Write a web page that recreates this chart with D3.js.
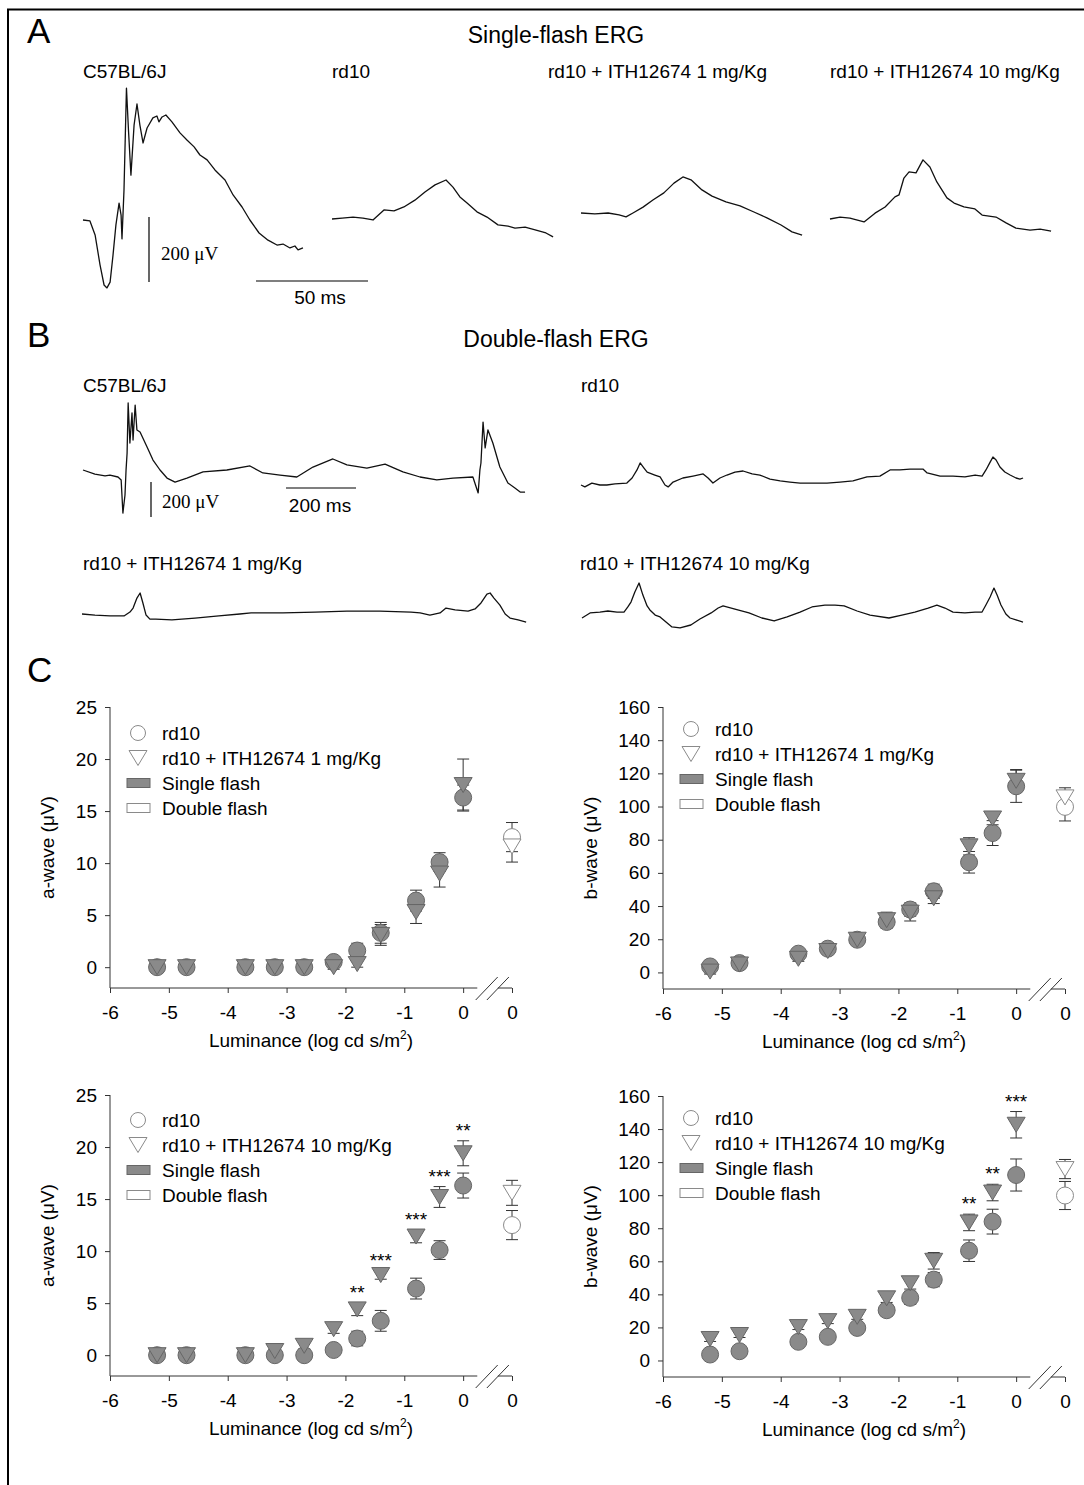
<!DOCTYPE html>
<html>
<head>
<meta charset="utf-8">
<script src="https://cdn.jsdelivr.net/npm/d3@7"></script>
<style>
  body { margin: 0; background: #fff; }
  svg  { display: block; font-family: "Liberation Sans", Arial, sans-serif; }
</style>
</head>
<body>
<div id="chart"></div>
<script>
// ---------------------------------------------------------------------------
// Data
// ---------------------------------------------------------------------------

// ERG traces, [time (ms), amplitude (µV)] from flash onset
const singleC57 = [[0,0],[3.1,-3],[5.4,-46],[7.6,-138],[9.4,-200],[10.7,-209],[12.1,-191],[13.4,-108],
  [14.7,-15],[16.1,52],[17,15],[17.4,-58],[18.3,92],[19.4,406],[20.3,277],[21.4,138],[22.8,292],
  [24.1,357],[25.4,292],[26.8,237],[28.6,283],[31.2,314],[33,320],[33.9,302],[35.3,317],[37,323],
  [39.7,302],[43.3,268],[46.4,246],[49.6,225],[52.2,200],[55.4,185],[58.9,154],[63.4,123],[67,77],
  [71,40],[74.5,0],[78.6,-40],[82.6,-62],[86.6,-77],[89.3,-74],[92.4,-86],[94.6,-80],[96,-92],[98.2,-86]];
const singleRd10 = [[0,0],[4.5,3],[9.4,6],[13.8,3],[18.3,-3],[23.2,28],[27.7,25],[32.1,37],[37,58],
  [41.5,83],[46,105],[50.9,120],[54,98],[57.1,68],[60.3,49],[64.7,22],[69.2,6],[74.1,-18],[78.6,-22],
  [81.7,-28],[86.2,-25],[91.1,-34],[95.5,-43],[98.7,-55]];
const singleRd10_1mg = [[0,0],[6.2,-3],[12.1,0],[17,-6],[20.1,-12],[23.2,0],[27.7,18],[32.1,40],[37,62],
  [41.5,92],[45.5,111],[49.1,102],[54,71],[58.5,52],[64.7,34],[71,22],[77.2,3],[83,-15],[89.3,-37],
  [94.2,-58],[98.7,-68]];
const singleRd10_10mg = [[0,0],[4.5,6],[8.9,3],[15.2,-9],[20.1,18],[24.6,37],[29,68],[30.8,74],[33,126],
  [35.3,145],[38.4,142],[41.5,182],[44.6,160],[47.7,114],[52.2,65],[55.4,49],[59.8,37],[64.7,31],
  [67.9,12],[74.1,6],[78.6,-12],[83,-28],[89.3,-34],[93.8,-31],[98.7,-37]];

const doubleC57 = [[0,0],[34,-23],[63,-34],[77,-29],[100,-40],[109,-57],[114,-246],[120,-143],[123,0],
  [126,97],[129,383],[134,154],[140,326],[143,171],[149,371],[154,229],[163,217],[183,131],[200,57],
  [220,0],[240,-46],[263,-69],[297,-46],[343,-11],[411,0],[477,23],[514,-17],[563,-29],[611,-40],
  [657,17],[714,63],[754,29],[811,11],[863,34],[914,-11],[963,-40],[1011,-57],[1057,-46],[1114,-40],
  [1129,-131],[1134,0],[1137,40],[1143,274],[1149,126],[1157,229],[1171,154],[1191,17],[1214,-74],
  [1234,-103],[1249,-126],[1263,-126]];
const doubleRd10 = [[0,0],[11,-11],[31,11],[54,0],[74,0],[97,6],[131,11],[146,40],[160,86],[169,126],
  [180,97],[189,74],[211,57],[226,46],[240,0],[249,-11],[263,17],[291,40],[320,51],[349,63],[363,40],
  [377,11],[397,40],[417,57],[440,74],[463,80],[489,63],[511,57],[540,34],[569,23],[597,17],[626,11],
  [663,11],[703,11],[740,17],[777,23],[817,46],[854,51],[883,86],[911,86],[940,91],[977,91],[989,69],
  [1026,51],[1063,51],[1097,46],[1126,57],[1146,51],[1157,86],[1169,131],[1177,160],[1186,143],
  [1197,103],[1211,74],[1226,57],[1243,40],[1254,34],[1263,40]];
const doubleRd10_1mg = [[0,0],[37,-6],[80,-11],[120,-11],[137,11],[146,34],[157,91],[166,120],[174,63],
  [183,-6],[194,-29],[211,-29],[257,-34],[323,-23],[391,-11],[451,0],[483,6],[574,6],[666,11],[757,17],
  [851,17],[940,11],[966,6],[994,-6],[1023,6],[1040,34],[1066,23],[1103,17],[1123,29],[1140,63],
  [1157,114],[1166,120],[1177,91],[1194,51],[1209,0],[1223,-23],[1246,-34],[1269,-46]];
const doubleRd10_10mg = [[0,0],[23,29],[51,34],[74,40],[100,34],[120,34],[131,63],[140,91],[151,149],
  [163,200],[174,131],[186,69],[194,46],[209,17],[223,6],[240,-23],[257,-51],[280,-57],[311,-40],
  [337,-6],[369,29],[389,57],[403,69],[437,51],[477,29],[514,0],[549,-17],[586,6],[623,34],[657,63],
  [694,74],[723,74],[749,69],[786,40],[823,17],[877,0],[914,17],[951,34],[989,57],[1014,74],[1037,57],
  [1060,34],[1094,29],[1123,34],[1143,34],[1154,74],[1166,120],[1177,171],[1186,131],[1197,74],
  [1211,23],[1223,0],[1240,-11],[1260,-23]];

// Luminance (log cd s/m2) of the single-flash steps
const luminance = [-5.2, -4.7, -3.7, -3.2, -2.7, -2.2, -1.8, -1.4, -0.8, -0.4, 0];
const xTicks    = [-6, -5, -4, -3, -2, -1, 0];

// a-wave (µV), mean and SEM
const aRd10      = [0, 0, 0, 0, 0, 0.5, 1.6, 3.3, 6.4, 10.1, 16.3];
const aRd10Err   = [0.1, 0.1, 0.1, 0.1, 0.1, 0.2, 0.7, 1.0, 1.0, 0.9, 1.2];
const aRd10Dbl   = [12.5, 1.4];
const a1mg       = [0, 0, 0, 0, 0, 0, 0.3, 3.1, 5.3, 9.0, 17.5];
const a1mgErr    = [0.1, 0.1, 0.1, 0.1, 0.1, 0.2, 0.3, 1.0, 1.1, 1.3, 2.5];
const a1mgDbl    = [11.6, 1.5];
const a10mg      = [0, 0, 0, 0.4, 0.9, 2.5, 4.4, 7.7, 11.4, 15.2, 19.4];
const a10mgErr   = [0.1, 0.1, 0.1, 0.2, 0.3, 0.4, 0.6, 0.4, 0.6, 1.0, 1.2];
const a10mgDbl   = [15.6, 1.2];
const a10mgSig   = ['', '', '', '', '', '', '**', '***', '***', '***', '**'];

// b-wave (µV), mean and SEM
const bRd10      = [3.6, 5.6, 11.3, 14.3, 19.7, 30.4, 37.9, 48.9, 66.4, 84, 112.2];
const bRd10Err   = [1.5, 1.5, 1.5, 1.5, 1.5, 3.5, 4, 4.3, 6.5, 7.5, 9.7];
const bRd10Dbl   = [99.8, 8.5];
const b1mg       = [0.5, 4.8, 8.2, 12.9, 19.7, 31.5, 36, 44.7, 76, 92.8, 115.5];
const b1mgErr    = [1.5, 1.5, 1.5, 1.5, 1.5, 4.8, 5, 3.2, 5.2, 3.8, 6.8];
const b1mgDbl    = [105.5, 5.8];
const b10mg      = [13, 15.4, 20.2, 23.8, 26.4, 37.6, 46.7, 60.3, 83.5, 101.6, 142.6];
const b10mgErr   = [1.5, 1.5, 1.5, 1.5, 1.5, 2.5, 3.5, 5, 5, 5, 8];
const b10mgDbl   = [115.8, 5.8];
const b10mgSig   = ['', '', '', '', '', '', '', '', '**', '**', '***'];

// ---------------------------------------------------------------------------
// Drawing
// ---------------------------------------------------------------------------
const W = 1084, H = 1485;
const FONT = 19;
const GRAY = '#8a8a8a', GRAY_DARK = '#666', AXIS = '#333';
const DOUBLE_POS = 0.83;   // axis position of the double-flash column (after the break)

const svg = d3.select('#chart').append('svg')
    .attr('width', W).attr('height', H)
    .attr('viewBox', `0 0 ${W} ${H}`);

svg.append('rect').attr('width', W).attr('height', H).attr('fill', '#fff');

// frame (top + left only)
svg.append('path')
    .attr('d', `M${W},9.5 H8 V${H}`)
    .attr('fill', 'none').attr('stroke', '#000').attr('stroke-width', 2);

const text = (x, y, s, opts = {}) => svg.append('text')
    .attr('x', x).attr('y', y)
    .attr('font-size', opts.size || FONT)
    .attr('text-anchor', opts.anchor || 'start')
    .attr('font-family', opts.family || null)
    .attr('fill', '#000')
    .text(s);

// panel letters & titles
text(27, 43, 'A', { size: 35 });
text(27, 347, 'B', { size: 35 });
text(27, 682, 'C', { size: 35 });
text(556, 43, 'Single-flash ERG', { size: 23, anchor: 'middle' });
text(556, 347, 'Double-flash ERG', { size: 23, anchor: 'middle' });

// ── ERG traces ─────────────────────────────────────────────────────────────
function drawTrace(pts, x0, y0, pxPerMs, pxPerUv) {
    const x = d3.scaleLinear().domain([0, 1]).range([x0, x0 + pxPerMs]);
    const y = d3.scaleLinear().domain([0, 1]).range([y0, y0 - pxPerUv]);
    svg.append('path').datum(pts)
        .attr('d', d3.line().x(d => x(d[0])).y(d => y(d[1])))
        .attr('fill', 'none')
        .attr('stroke', '#111')
        .attr('stroke-width', 1.3)
        .attr('stroke-linejoin', 'round');
}

function scaleBars(vx, vBottom, uv, hx, hy, ms, pxPerMs, pxPerUv, uvLabel, msLabel) {
    svg.append('line').attr('x1', vx).attr('x2', vx)
        .attr('y1', vBottom).attr('y2', vBottom - uv * pxPerUv)
        .attr('stroke', '#000').attr('stroke-width', 1.2);
    svg.append('line').attr('x1', hx).attr('x2', hx + ms * pxPerMs)
        .attr('y1', hy).attr('y2', hy)
        .attr('stroke', '#000').attr('stroke-width', 1.2);
    text(uvLabel[0], uvLabel[1], '200 μV', { family: '"Liberation Serif", "Times New Roman", serif' });
    text(msLabel[0], msLabel[1], msLabel[2], { anchor: 'middle' });
}

// A: single flash
const A_MS = 2.24, A_UV = 0.325;
text(83, 78, 'C57BL/6J');
text(332, 78, 'rd10');
text(548, 78, 'rd10 + ITH12674 1 mg/Kg');
text(830, 78, 'rd10 + ITH12674 10 mg/Kg');
drawTrace(singleC57,       83, 220, A_MS, A_UV);
drawTrace(singleRd10,      332, 219, A_MS, A_UV);
drawTrace(singleRd10_1mg,  581, 213, A_MS, A_UV);
drawTrace(singleRd10_10mg, 830, 219, A_MS, A_UV);
scaleBars(149, 282, 200, 256, 281, 50, A_MS, A_UV, [161, 260], [320, 304, '50 ms']);

// B: double flash
const B_MS = 0.35, B_UV = 0.175;
text(83, 392, 'C57BL/6J');
text(581, 392, 'rd10');
text(83, 570, 'rd10 + ITH12674 1 mg/Kg');
text(580, 570, 'rd10 + ITH12674 10 mg/Kg');
drawTrace(doubleC57,       83, 470, B_MS, B_UV);
drawTrace(doubleRd10,      581, 485, B_MS, B_UV);
drawTrace(doubleRd10_1mg,  82, 614, B_MS, B_UV);
drawTrace(doubleRd10_10mg, 582, 618, B_MS, B_UV);
scaleBars(151, 517, 200, 286, 488, 200, B_MS, B_UV, [162, 508], [320, 512, '200 ms']);

// ── C: intensity-response plots ────────────────────────────────────────────
const triPath = 'M-9,-7.5L9,-7.5L0,7.5Z';

function drawPlot(cfg) {
    const g = svg.append('g');
    const x = d3.scaleLinear().domain([-6, DOUBLE_POS]).range([cfg.left, cfg.left + 402]);
    const y = d3.scaleLinear().domain(cfg.yDomain).range([cfg.bottom, cfg.top]);

    // y axis
    const ya = g.append('g').attr('transform', `translate(${cfg.left},0)`)
        .call(d3.axisLeft(y).tickValues(cfg.yTicks).tickSize(5).tickPadding(8).tickFormat(d => String(d)));
    ya.select('.domain').remove();
    g.append('line').attr('x1', cfg.left).attr('x2', cfg.left)
        .attr('y1', cfg.bottom).attr('y2', cfg.top).attr('stroke', AXIS);

    // x axis (broken before the double-flash column)
    const xa = g.append('g').attr('transform', `translate(0,${cfg.bottom})`)
        .call(d3.axisBottom(x).tickValues(xTicks.concat([DOUBLE_POS])).tickSize(5).tickPadding(13)
            .tickFormat(d => d === DOUBLE_POS ? '0' : String(d)));
    xa.select('.domain').remove();
    [[-6, 0.24], [0.59, DOUBLE_POS]].forEach(([a, b]) => {
        g.append('line').attr('x1', x(a)).attr('x2', x(b))
            .attr('y1', cfg.bottom).attr('y2', cfg.bottom).attr('stroke', AXIS);
    });
    [0.40, 0.59].forEach(v => {
        g.append('line')
            .attr('x1', x(v) - 11).attr('y1', cfg.bottom + 12)
            .attr('x2', x(v) + 11).attr('y2', cfg.bottom - 11)
            .attr('stroke', AXIS);
    });

    [ya, xa].forEach(a => {
        a.attr('font-size', FONT).attr('font-family', null);
        a.selectAll('line').attr('stroke', AXIS);
        a.selectAll('text').attr('fill', '#000');
    });

    // axis titles
    g.append('text')
        .attr('transform', `translate(${cfg.left - cfg.yTitleOff},${(cfg.top + cfg.bottom) / 2}) rotate(-90)`)
        .attr('text-anchor', 'middle').attr('font-size', FONT)
        .text(cfg.yTitle);
    const xt = g.append('text')
        .attr('x', cfg.left + 201).attr('y', cfg.bottom + 59)
        .attr('text-anchor', 'middle').attr('font-size', FONT);
    xt.append('tspan').text('Luminance (log cd s/m');
    xt.append('tspan').attr('dy', -8).attr('font-size', 12).text('2');
    xt.append('tspan').attr('dy', 8).text(')');

    // points: [position, mean, err]
    const rows = (means, errs) => means.map((m, i) => [luminance[i], m, errs[i]]);
    const ref  = rows(cfg.ref, cfg.refErr).concat([[DOUBLE_POS, cfg.refDbl[0], cfg.refDbl[1], true]]);
    const trt  = rows(cfg.trt, cfg.trtErr).concat([[DOUBLE_POS, cfg.trtDbl[0], cfg.trtDbl[1], true]]);

    const errG = g.append('g').attr('stroke', AXIS).attr('stroke-width', 1);
    ref.concat(trt).forEach(([p, m, e]) => {
        const cx = x(p), y1 = y(m - e), y2 = y(m + e);
        errG.append('line').attr('x1', cx).attr('x2', cx).attr('y1', y1).attr('y2', y2);
        errG.append('line').attr('x1', cx - 6).attr('x2', cx + 6).attr('y1', y1).attr('y2', y1);
        errG.append('line').attr('x1', cx - 6).attr('x2', cx + 6).attr('y1', y2).attr('y2', y2);
    });

    g.selectAll('circle.pt').data(ref).join('circle')
        .attr('class', 'pt')
        .attr('cx', d => x(d[0])).attr('cy', d => y(d[1])).attr('r', 8.5)
        .attr('fill', d => d[3] ? '#fff' : GRAY)
        .attr('stroke', d => d[3] ? GRAY : GRAY_DARK);

    g.selectAll('path.pt').data(trt).join('path')
        .attr('class', 'pt')
        .attr('d', triPath)
        .attr('transform', d => `translate(${x(d[0])},${y(d[1])})`)
        .attr('fill', d => d[3] ? '#fff' : GRAY)
        .attr('stroke', d => d[3] ? GRAY : GRAY_DARK);

    // significance stars
    if (cfg.sig) {
        cfg.sig.forEach((s, i) => {
            if (!s) return;
            g.append('text')
                .attr('x', x(luminance[i])).attr('y', y(cfg.trt[i] + cfg.trtErr[i]) - 4)
                .attr('text-anchor', 'middle').attr('font-size', FONT)
                .text(s);
        });
    }

    // legend
    const mx = cfg.left + 28, tx = cfg.left + 52;
    const ly = i => cfg.top + cfg.legendDy + i * 25;
    g.append('circle').attr('cx', mx).attr('cy', ly(0)).attr('r', 7.5)
        .attr('fill', '#fff').attr('stroke', GRAY);
    g.append('path').attr('d', triPath).attr('transform', `translate(${mx},${ly(1)})`)
        .attr('fill', '#fff').attr('stroke', GRAY);
    g.append('rect').attr('x', mx - 11).attr('y', ly(2) - 4.5).attr('width', 23).attr('height', 9)
        .attr('fill', GRAY).attr('stroke', GRAY_DARK);
    g.append('rect').attr('x', mx - 11).attr('y', ly(3) - 4.5).attr('width', 23).attr('height', 9)
        .attr('fill', '#fff').attr('stroke', GRAY);
    ['rd10', cfg.trtLabel, 'Single flash', 'Double flash'].forEach((s, i) => {
        g.append('text').attr('x', tx).attr('y', ly(i) + 7).attr('font-size', FONT).text(s);
    });
}

const aTicks = [0, 5, 10, 15, 20, 25];
const bTicks = [0, 20, 40, 60, 80, 100, 120, 140, 160];

drawPlot({ left: 110, top: 707, bottom: 988, yDomain: [-2, 25], yTicks: aTicks,
    yTitle: 'a-wave (μV)', yTitleOff: 56, legendDy: 26,
    ref: aRd10, refErr: aRd10Err, refDbl: aRd10Dbl,
    trt: a1mg, trtErr: a1mgErr, trtDbl: a1mgDbl, trtLabel: 'rd10 + ITH12674 1 mg/Kg' });

drawPlot({ left: 663, top: 707, bottom: 989, yDomain: [-10, 160], yTicks: bTicks,
    yTitle: 'b-wave (μV)', yTitleOff: 66, legendDy: 22,
    ref: bRd10, refErr: bRd10Err, refDbl: bRd10Dbl,
    trt: b1mg, trtErr: b1mgErr, trtDbl: b1mgDbl, trtLabel: 'rd10 + ITH12674 1 mg/Kg' });

drawPlot({ left: 110, top: 1095, bottom: 1376, yDomain: [-2, 25], yTicks: aTicks,
    yTitle: 'a-wave (μV)', yTitleOff: 56, legendDy: 25,
    ref: aRd10, refErr: aRd10Err, refDbl: aRd10Dbl,
    trt: a10mg, trtErr: a10mgErr, trtDbl: a10mgDbl, sig: a10mgSig,
    trtLabel: 'rd10 + ITH12674 10 mg/Kg' });

drawPlot({ left: 663, top: 1096, bottom: 1377, yDomain: [-10, 160], yTicks: bTicks,
    yTitle: 'b-wave (μV)', yTitleOff: 66, legendDy: 22,
    ref: bRd10, refErr: bRd10Err, refDbl: bRd10Dbl,
    trt: b10mg, trtErr: b10mgErr, trtDbl: b10mgDbl, sig: b10mgSig,
    trtLabel: 'rd10 + ITH12674 10 mg/Kg' });
</script>
</body>
</html>
